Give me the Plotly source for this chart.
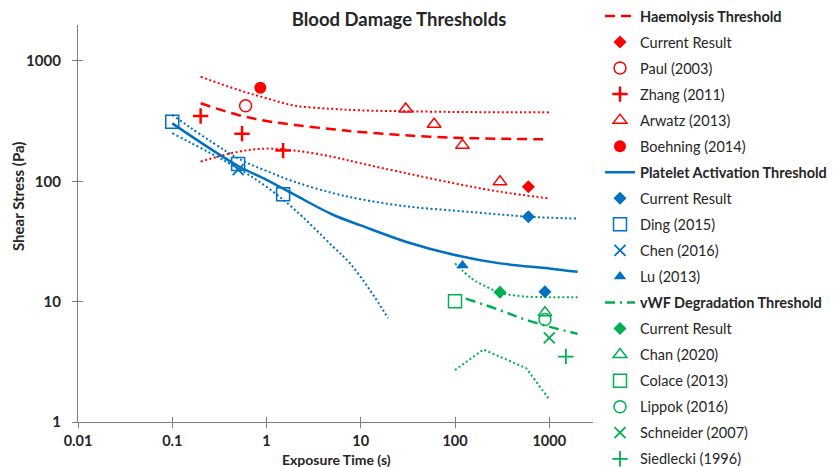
import plotly.graph_objects as go

# ---------------- data ----------------
# Haemolysis threshold (dashed) and its dotted bounds
haem_x = [0.2, 0.5, 1, 2, 5, 10, 30, 100, 300, 1000]
haem_y = [445, 356, 317, 294, 271, 257, 241, 230, 226, 223]
haem_up_x = [0.2, 0.5, 1, 2, 5, 10, 30, 100, 300, 1000]
haem_up_y = [740, 575, 490, 425, 400, 389, 382, 377, 375, 374]
haem_lo_x = [0.2, 0.5, 1, 2, 5, 10, 30, 100, 300, 1000]
haem_lo_y = [146, 176, 187, 180, 160, 141, 117, 96, 82, 72]

# Platelet activation threshold (solid) and dotted bounds
plt_x = [0.1, 0.5, 1, 2, 5, 10, 30, 100, 300, 1000, 2000]
plt_y = [303, 134, 103, 77, 53, 43, 31.5, 24.4, 20.8, 18.9, 17.7]
plt_up_x = [0.1, 0.5, 1, 2, 5, 10, 30, 100, 300, 600, 2000]
plt_up_y = [356, 155, 122, 99, 80, 71, 62, 57, 53, 50.8, 49]
plt_lo_x = [0.1, 0.5, 1, 2, 5, 7.7, 12.5, 19.5]
plt_lo_y = [251, 128, 90, 58, 29, 20.8, 12.5, 7.3]

# vWF degradation threshold (dash-dot) and dotted bounds
vwf_x = [130, 300, 500, 1000, 2000]
vwf_y = [10.6, 8.5, 7.3, 6.2, 5.4]
vwf_up_x = [100, 150, 200, 300, 500, 1000, 2000]
vwf_up_y = [20.8, 15.6, 13.7, 11.9, 11.1, 10.9, 10.9]
vwf_lo_x = [100, 200, 570, 1000]
vwf_lo_y = [2.7, 4.0, 2.8, 1.54]

# Haemolysis studies
haem_cur_x, haem_cur_y = [600], [90]
paul_x, paul_y = [0.6], [425]
zhang_x, zhang_y = [0.2, 0.55, 1.5], [349, 249, 180]
arwatz_x, arwatz_y = [30, 60, 120, 300], [399, 298, 199, 99]
boehning_x, boehning_y = [0.86], [600]

# Platelet studies
plt_cur_x, plt_cur_y = [600, 900], [50.8, 12.1]
ding_x, ding_y = [0.1, 0.5, 1.5], [313, 139, 78]
chen_x, chen_y = [0.5], [125]
lu_x, lu_y = [120], [20]

# vWF studies
vwf_cur_x, vwf_cur_y = [300], [12]
chan_x, chan_y = [900], [8.1]
colace_x, colace_y = [100], [10.1]
lippok_x, lippok_y = [900], [7.1]
schneider_x, schneider_y = [1000], [5]
siedlecki_x, siedlecki_y = [1500], [3.5]

x_ticks = [0.01, 0.1, 1, 10, 100, 1000]
x_ticktext = ["0.01", "0.1", "1", "10", "100", "1000"]
y_ticks = [1, 10, 100, 1000]
y_ticktext = ["1", "10", "100", "1000"]

# ---------------- styling ----------------
RED = "#FF0000"
BLUE = "#0070C0"
GREEN = "#00B050"
AXIS = "#7F7F7F"
FONT = "Lato"
TXT = "#262626"

fig = go.Figure()

def band(x, y, color, shape="spline"):
    fig.add_trace(go.Scatter(x=x, y=y, mode="lines", showlegend=False, hoverinfo="skip",
                             line=dict(color=color, width=2, dash="2px,2.5px", shape=shape)))

# dotted bounds (no legend)
band(haem_up_x, haem_up_y, RED)
band(haem_lo_x, haem_lo_y, RED)
band(plt_up_x, plt_up_y, BLUE)
band(plt_lo_x, plt_lo_y, BLUE)
band(vwf_up_x, vwf_up_y, GREEN)
band(vwf_lo_x, vwf_lo_y, GREEN, shape="linear")

grp = [0]
def line(x, y, name, color, dash):
    grp[0] += 1
    fig.add_trace(go.Scatter(x=x, y=y, mode="lines", name=name, legendgroup=str(grp[0]),
                             line=dict(color=color, width=2.5, dash=dash, shape="spline")))

def pts(x, y, name, color, symbol, size, lw=1.5):
    grp[0] += 1
    fig.add_trace(go.Scatter(x=x, y=y, mode="markers", name=name, legendgroup=str(grp[0]),
                             marker=dict(symbol=symbol, size=size, color=color,
                                         line=dict(color=color, width=lw))))

line(haem_x, haem_y, "<b>Haemolysis Threshold</b>", RED, "10px,6px")
pts(haem_cur_x, haem_cur_y, "Current Result", RED, "diamond", 10, 0)
pts(paul_x, paul_y, "Paul (2003)", RED, "circle-open", 12)
pts(zhang_x, zhang_y, "Zhang (2011)", RED, "cross-thin", 11, 2.5)
pts(arwatz_x, arwatz_y, "Arwatz (2013)", RED, "triangle-up-open", 12)
pts(boehning_x, boehning_y, "Boehning (2014)", RED, "circle", 12, 0)

line(plt_x, plt_y, "<b>Platelet Activation Threshold</b>", BLUE, "solid")
pts(plt_cur_x, plt_cur_y, "Current Result", BLUE, "diamond", 10, 0)
pts(ding_x, ding_y, "Ding (2015)", BLUE, "square-open", 13)
pts(chen_x, chen_y, "Chen (2016)", BLUE, "x-thin", 11, 1.8)
pts(lu_x, lu_y, "Lu (2013)", BLUE, "triangle-up", 11, 0)

line(vwf_x, vwf_y, "<b>vWF Degradation Threshold</b>", GREEN, "10px,5px,2px,5px")
pts(vwf_cur_x, vwf_cur_y, "Current Result", GREEN, "diamond", 10, 0)
pts(chan_x, chan_y, "Chan (2020)", GREEN, "triangle-up-open", 12)
pts(colace_x, colace_y, "Colace (2013)", GREEN, "square-open", 13)
pts(lippok_x, lippok_y, "Lippok (2016)", GREEN, "circle-open", 12)
pts(schneider_x, schneider_y, "Schneider (2007)", GREEN, "x-thin", 11, 1.8)
pts(siedlecki_x, siedlecki_y, "Siedlecki (1996)", GREEN, "cross-thin", 11, 1.8)

# empty trace to host the overlay axes that draw the inner half of each tick
fig.add_trace(go.Scatter(x=[], y=[], xaxis="x2", yaxis="y2", showlegend=False, hoverinfo="skip"))

XR = [-2, 3.464]
YR = [0, 3.299]
W, H = 833, 467
L, R, T, B = 78, 240, 25, 45

fig.update_layout(
    width=W, height=H,
    margin=dict(l=L, r=R, t=T, b=B, autoexpand=False),
    paper_bgcolor="white", plot_bgcolor="white",
    font=dict(family=FONT, color=TXT),
    title=dict(text="<b>Blood Damage Thresholds</b>", x=399 / W, xref="container",
               y=1 - 20 / H, yref="container", xanchor="center", yanchor="middle",
               font=dict(size=18.5, family=FONT, color=TXT)),
    xaxis=dict(type="log", range=XR, tickvals=x_ticks, ticktext=x_ticktext,
               showline=True, linecolor=AXIS, linewidth=1.3, ticks="outside", ticklen=5,
               tickcolor=AXIS, tickwidth=1.2, showgrid=False, zeroline=False,
               tickfont=dict(size=14.5, weight="bold", color=TXT), ticklabelstandoff=0),
    yaxis=dict(type="log", range=YR, tickvals=y_ticks, ticktext=y_ticktext,
               showline=True, linecolor=AXIS, linewidth=1.3, ticks="outside", ticklen=5,
               tickcolor=AXIS, tickwidth=1.2, showgrid=False, zeroline=False,
               tickfont=dict(size=15, weight="bold", color=TXT), ticklabelstandoff=8),
    xaxis2=dict(type="log", range=XR, overlaying="x", anchor="y2", tickvals=x_ticks,
                ticks="inside", ticklen=5, tickcolor=AXIS, tickwidth=1.2,
                showticklabels=False, showline=False, showgrid=False, zeroline=False),
    yaxis2=dict(type="log", range=YR, overlaying="y", anchor="x2", tickvals=y_ticks,
                ticks="inside", ticklen=5, tickcolor=AXIS, tickwidth=1.2,
                showticklabels=False, showline=False, showgrid=False, zeroline=False),
    legend=dict(xref="container", yref="container", x=600 / W, y=1 + 3 / H,
                xanchor="left", yanchor="top", traceorder="grouped", tracegroupgap=4.2,
                font=dict(size=14.5, family=FONT, color=TXT), bgcolor="rgba(0,0,0,0)",
                itemsizing="trace", maxheight=800),
    annotations=[
        dict(text="<b>Shear Stress (Pa)</b>", xref="paper", yref="paper",
             x=(18 - L) / (W - L - R), y=(H - B - 197) / (H - T - B), textangle=-90,
             showarrow=False, xanchor="center", yanchor="middle",
             font=dict(size=15, family=FONT, color=TXT)),
        dict(text="<b>Exposure Time (s)</b>", xref="paper", yref="paper",
             x=(336 - L) / (W - L - R), y=-(459 - (H - B)) / (H - T - B),
             showarrow=False, xanchor="center", yanchor="middle",
             font=dict(size=14, family=FONT, color=TXT)),
    ],
)

fig.write_html("out.html", post_script="document.body.style.margin='0';",
               config={"displayModeBar": False})
